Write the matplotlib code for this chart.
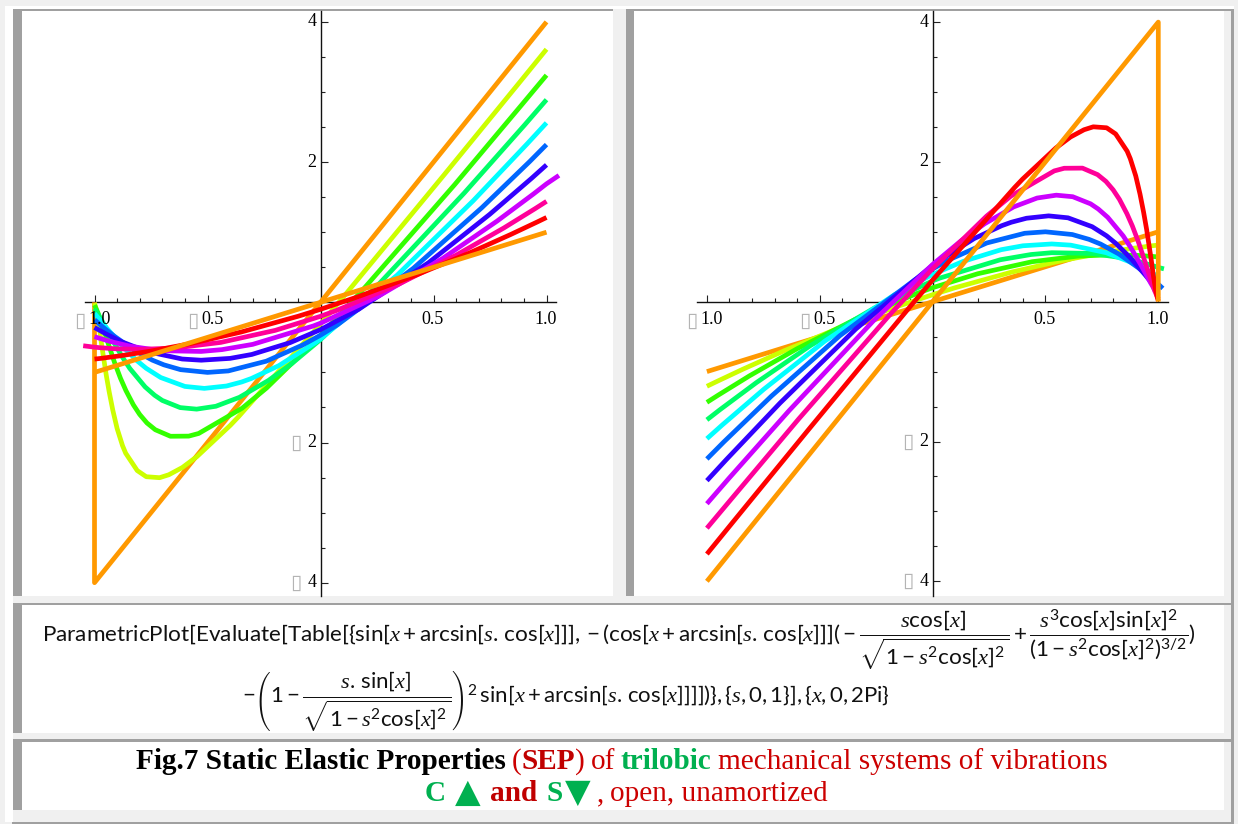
import matplotlib
matplotlib.use("Agg")
import matplotlib.pyplot as plt
from matplotlib.patches import Rectangle

plt.rcParams.update({
    "mathtext.fontset": "custom",
    "mathtext.rm": "Lato",
    "mathtext.it": "Liberation Serif:italic",
    "mathtext.bf": "Lato:bold",
})

# ---------------------------------------------------------------- colours
# Hue[0.1 + s] for s = 0, 0.1, ..., 1
HUE_COLORS = ["#ff9900", "#ccff00", "#33ff00", "#00ff66", "#00ffff", "#0066ff",
              "#3300ff", "#cc00ff", "#ff0099", "#ff0000", "#ff9900"]

# ---------------------------------------------------------------- axis ticks
X_TICKS = [-1.0, -0.5, 0.5, 1.0]
X_TICK_LABELS = ["\u25af1.0", "\u25af0.5", "0.5", "1.0"]
X_MINOR = [-0.9, -0.8, -0.7, -0.6, -0.4, -0.3, -0.2, -0.1, 0.1, 0.2, 0.3, 0.4,
           0.6, 0.7, 0.8, 0.9]
Y_TICKS = [-4, -2, 2, 4]
Y_TICK_LABELS = ["\u25af4", "\u25af2", "2", "4"]
Y_MINOR = [-3.5, -3, -2.5, -1.5, -1, -0.5, 0.5, 1, 1.5, 2.5, 3, 3.5]

# ---------------------------------------------------------------- right panel (S), s = 0 ... 1
R0_X = [-1.0, 1.0]
R0_Y = [-1.0, 1.0]
R1_X = [-1.0, -0.959, -0.840, -0.655, -0.423, -0.164, 0.0, 0.1, 0.351, 0.573, 0.755, 0.890, 0.972, 1.0]
R1_Y = [-1.21, -1.146, -0.965, -0.698, -0.388, -0.077, 0.1, 0.2, 0.424, 0.588, 0.698, 0.765, 0.800, 0.81]
R2_X = [-1.0, -0.951, -0.812, -0.6, -0.342, -0.067, 0.0, 0.2, 0.441, 0.643, 0.8, 0.912, 0.978, 1.0]
R2_Y = [-1.44, -1.339, -1.062, -0.672, -0.252, 0.121, 0.2, 0.4, 0.572, 0.652, 0.672, 0.662, 0.647, 0.64]
R3_X = [-1.0, -0.943, -0.781, -0.541, -0.258, 0.0, 0.032, 0.3, 0.436, 0.528, 0.708, 0.841, 0.931, 0.983, 1.0, 1.025]
R3_Y = [-1.69, -1.547, -1.158, -0.627, -0.090, 0.298, 0.338, 0.6, 0.675, 0.701, 0.690, 0.627, 0.558, 0.508, 0.49, 0.47]
R4_X = [-1.0, -0.934, -0.748, -0.478, -0.169, 0.0, 0.135, 0.304, 0.4, 0.528, 0.612, 0.769, 0.878, 0.948, 0.987, 1.0]
R4_Y = [-1.96, -1.769, -1.253, -0.565, 0.099, 0.39, 0.576, 0.744, 0.8, 0.826, 0.809, 0.701, 0.565, 0.453, 0.383, 0.36]
R5_X = [-1.0, -0.925, -0.714, -0.411, -0.076, 0.0, 0.079, 0.24, 0.408, 0.5, 0.619, 0.693, 0.744, 0.826,
        0.911, 0.964, 0.991, 1.0, 1.02]
R5_Y = [-2.25, -2.006, -1.35, -0.486, 0.319, 0.469, 0.609, 0.84, 0.979, 1.0, 0.961, 0.892, 0.825, 0.681,
        0.486, 0.35, 0.274, 0.25, 0.19]
R6_X = [-1.0, -0.914, -0.676, -0.34, 0.0, 0.023, 0.184, 0.306, 0.349, 0.416, 0.514, 0.6, 0.707, 0.771,
        0.813, 0.877, 0.94, 0.976, 0.994, 1.0]
R6_Y = [-2.56, -2.259, -1.45, -0.39, 0.522, 0.575, 0.903, 1.087, 1.137, 1.194, 1.228, 1.2, 1.073, 0.942,
        0.831, 0.625, 0.39, 0.25, 0.181, 0.16]
R7_X = [-1.0, -0.903, -0.636, -0.264, 0.0, 0.127, 0.23, 0.359, 0.463, 0.548, 0.621, 0.7, 0.734, 0.776,
        0.844, 0.876, 0.923, 0.964, 0.986, 0.997, 1.0]
R7_Y = [-2.89, -2.529, -1.559, -0.28, 0.532, 0.874, 1.114, 1.356, 1.483, 1.524, 1.502, 1.4, 1.326, 1.207,
        0.943, 0.785, 0.526, 0.28, 0.159, 0.105, 0.09]
R8_X = [-1.0, -0.891, -0.594, -0.183, 0.0, 0.239, 0.347, 0.539, 0.583, 0.664, 0.731, 0.768, 0.8, 0.828,
        0.861, 0.885, 0.911, 0.932, 0.961, 0.983, 0.994, 1.0]
R8_Y = [-3.24, -2.82, -1.68, -0.163, 0.472, 1.224, 1.511, 1.871, 1.909, 1.911, 1.818, 1.721, 1.6, 1.463,
        1.259, 1.084, 0.862, 0.659, 0.376, 0.163, 0.08, 0.04]
R9_X = [-1.0, -0.879, -0.548, -0.096, 0.0, 0.363, 0.399, 0.546, 0.611, 0.671, 0.712, 0.771, 0.811, 0.862,
        0.876, 0.9, 0.919, 0.935, 0.948, 0.958, 0.968, 0.977, 0.988, 0.996, 1.0]
R9_Y = [-3.61, -3.13, -1.823, -0.056, 0.31, 1.633, 1.755, 2.199, 2.356, 2.46, 2.502, 2.488, 2.40, 2.153,
        2.045, 1.8, 1.539, 1.278, 1.039, 0.828, 0.616, 0.398, 0.17, 0.056, 0.01]
R10_X = [-1.0, 1.0, 1.0]
R10_Y = [-4.0, 4.0, 0.0]

# ---------------------------------------------------------------- left panel (C), same colour order
L0_X = [1.0, -1.0, -1.0]
L0_Y = [4.0, -4.0, 0.0]
L1_X = [-1.0, -0.996, -0.988, -0.977, -0.968, -0.958, -0.948, -0.935, -0.919, -0.9, -0.876, -0.862, -0.811,
        -0.771, -0.712, -0.671, -0.611, -0.546, -0.399, -0.363, 0.0, 0.096, 0.548, 0.879, 1.0]
L1_Y = [-0.01, -0.056, -0.17, -0.398, -0.616, -0.828, -1.039, -1.278, -1.539, -1.8, -2.045, -2.153, -2.40,
        -2.488, -2.502, -2.46, -2.356, -2.199, -1.755, -1.633, -0.31, 0.056, 1.823, 3.13, 3.61]
L2_X = [-1.0, -0.994, -0.983, -0.961, -0.932, -0.911, -0.885, -0.861, -0.828, -0.8, -0.768, -0.731, -0.664,
        -0.583, -0.539, -0.347, -0.239, 0.0, 0.183, 0.594, 0.891, 1.0]
L2_Y = [-0.04, -0.08, -0.163, -0.376, -0.659, -0.862, -1.084, -1.259, -1.463, -1.6, -1.721, -1.818, -1.911,
        -1.909, -1.871, -1.511, -1.224, -0.472, 0.163, 1.68, 2.82, 3.24]
L3_X = [-1.0, -0.997, -0.986, -0.964, -0.923, -0.876, -0.844, -0.776, -0.734, -0.7, -0.621, -0.548, -0.463,
        -0.359, -0.23, -0.127, 0.0, 0.264, 0.636, 0.903, 1.0]
L3_Y = [-0.09, -0.105, -0.159, -0.28, -0.526, -0.785, -0.943, -1.207, -1.326, -1.4, -1.502, -1.524, -1.483,
        -1.356, -1.114, -0.874, -0.532, 0.28, 1.559, 2.529, 2.89]
L4_X = [-1.0, -0.994, -0.976, -0.94, -0.877, -0.813, -0.771, -0.707, -0.6, -0.514, -0.416, -0.349, -0.306,
        -0.184, -0.023, 0.0, 0.34, 0.676, 0.914, 1.0]
L4_Y = [-0.16, -0.181, -0.25, -0.39, -0.625, -0.831, -0.942, -1.073, -1.2, -1.228, -1.194, -1.137, -1.087,
        -0.903, -0.575, -0.522, 0.39, 1.45, 2.259, 2.56]
L5_X = [-1.0, -0.991, -0.964, -0.911, -0.826, -0.744, -0.693, -0.619, -0.5, -0.408, -0.24, -0.079, 0.0,
        0.076, 0.411, 0.714, 0.925, 1.0]
L5_Y = [-0.25, -0.274, -0.35, -0.486, -0.681, -0.825, -0.892, -0.961, -1.0, -0.979, -0.84, -0.609, -0.469,
        -0.319, 0.486, 1.35, 2.006, 2.25]
L6_X = [-1.0, -0.987, -0.948, -0.878, -0.769, -0.612, -0.528, -0.4, -0.304, -0.135, 0.0, 0.169, 0.478, 0.748, 0.934, 1.0]
L6_Y = [-0.36, -0.383, -0.453, -0.565, -0.701, -0.809, -0.826, -0.8, -0.744, -0.576, -0.39, -0.099, 0.565, 1.253, 1.769, 1.96]
L7_X = [-1.0, -0.983, -0.931, -0.841, -0.708, -0.528, -0.436, -0.3, -0.032, 0.0, 0.258, 0.541, 0.781, 0.943, 1.0, 1.055]
L7_Y = [-0.49, -0.508, -0.558, -0.627, -0.69, -0.701, -0.675, -0.6, -0.338, -0.298, 0.09, 0.627, 1.158, 1.547, 1.69, 1.81]
L8_X = [-1.05, -1.0, -0.978, -0.912, -0.8, -0.643, -0.441, -0.2, 0.0, 0.067, 0.342, 0.6, 0.812, 0.951, 1.0]
L8_Y = [-0.62, -0.64, -0.647, -0.662, -0.672, -0.652, -0.572, -0.4, -0.2, -0.121, 0.252, 0.672, 1.062, 1.339, 1.44]
L9_X = [-1.0, -0.972, -0.890, -0.755, -0.573, -0.351, -0.1, 0.0, 0.164, 0.423, 0.655, 0.840, 0.959, 1.0]
L9_Y = [-0.81, -0.8, -0.765, -0.698, -0.588, -0.424, -0.2, -0.1, 0.077, 0.388, 0.698, 0.965, 1.146, 1.21]
L10_X = [-1.0, 1.0]
L10_Y = [-1.0, 1.0]

RIGHT_CURVES = [(R0_X, R0_Y), (R1_X, R1_Y), (R2_X, R2_Y), (R3_X, R3_Y), (R4_X, R4_Y),
                (R5_X, R5_Y), (R6_X, R6_Y), (R7_X, R7_Y), (R8_X, R8_Y), (R9_X, R9_Y),
                (R10_X, R10_Y)]
LEFT_CURVES = [(L0_X, L0_Y), (L1_X, L1_Y), (L2_X, L2_Y), (L3_X, L3_Y), (L4_X, L4_Y),
               (L5_X, L5_Y), (L6_X, L6_Y), (L7_X, L7_Y), (L8_X, L8_Y), (L9_X, L9_Y),
               (L10_X, L10_Y)]

# ---------------------------------------------------------------- texts
FORMULA_1 = (r"$\mathrm{ParametricPlot[Evaluate[Table[\{sin[}x+\mathrm{arcsin[}s.\,\mathrm{cos[}x\mathrm{]]],}"
             r"-\mathrm{(cos[}x+\mathrm{arcsin[}s.\,\mathrm{cos[}x\mathrm{]]](}-"
             r"\dfrac{s\mathrm{cos[}x\mathrm{]}}{\sqrt{1-s^2\mathrm{cos[}x\mathrm{]}^2}}+"
             r"\dfrac{s^3\mathrm{cos[}x\mathrm{]sin[}x\mathrm{]}^2}{(1-s^2\mathrm{cos[}x\mathrm{]}^2)^{3/2}}\mathrm{)}$")
FORMULA_2 = (r"$-\left(1-\dfrac{s.\,\mathrm{sin[}x\mathrm{]}}{\sqrt{1-s^2\mathrm{cos[}x\mathrm{]}^2}}\right)^2"
             r"\,\mathrm{sin[}x+\mathrm{arcsin[}s.\,\mathrm{cos[}x\mathrm{]]]])\},\{}s\mathrm{,0,1\}],\{}"
             r"x\mathrm{,0,2Pi\}}$")

BLACK, RED, DRED, GREEN = "#000000", "#cc0000", "#c00000", "#00b050"
# (text, weight or "glyph", colour, gap before in px)
CAPTION_1 = [("Fig.7 Static Elastic Properties", "bold", BLACK, 0),
             ("(", "normal", RED, 6),
             ("SEP", "bold", DRED, 0),
             (")", "normal", RED, 0),
             ("of", "normal", RED, 6),
             ("trilobic", "bold", GREEN, 6),
             ("mechanical systems of vibrations", "normal", RED, 6)]
CAPTION_2 = [("C", "bold", GREEN, 0),
             ("\u25b2", "glyph", GREEN, 9),
             ("and", "bold", DRED, 9),
             ("S", "bold", GREEN, 9),
             ("\u25bc", "glyph", GREEN, 3),
             (",", "normal", RED, 6),
             ("open, unamortized", "normal", RED, 6)]
GLYPH_SIZE = 24

# ---------------------------------------------------------------- figure and cell frames
W, H = 1238, 824
BG, BORDER = "#f0f0f0", "#a0a0a0"
fig = plt.figure(figsize=(W / 100, H / 100), dpi=100, facecolor=BG)


def fx(px):
    return px / W


def fy(py):
    return 1 - py / H


def rect(x0, y0, x1, y1, color):
    fig.add_artist(Rectangle((fx(x0), fy(y1)), (x1 - x0) / W, (y1 - y0) / H,
                             transform=fig.transFigure, facecolor=color,
                             edgecolor="none", zorder=-5))


rect(5, 6, 1234, 9, "white")
rect(5, 6, 13, 822, "white")
# plot cells
rect(13, 9, 613, 11, BORDER)
rect(13, 9, 22, 596, BORDER)
rect(22, 11, 613, 596, "white")
rect(626, 9, 1234, 11, BORDER)
rect(626, 9, 634, 596, BORDER)
rect(634, 11, 1224, 596, "white")
# formula cell
rect(13, 602.5, 1234, 605, BORDER)
rect(13, 602.5, 22, 733, BORDER)
rect(22, 605, 1224, 733, "white")
# caption cell
rect(13, 739, 1234, 741.5, BORDER)
rect(13, 739, 22, 810, BORDER)
rect(22, 741.5, 1224, 810, "white")
# outer frame lines
rect(1231, 9, 1234, 824, BORDER)
rect(12, 822, 1234, 824, BORDER)

SERIF = ["Liberation Serif", "DejaVu Sans"]
BOX_KW = dict(fontsize=15, color="#b4b4b4", family="DejaVu Sans", zorder=5)
NUM_KW = dict(fontsize=13, family=SERIF, zorder=5)


def panel(px0, px1, xlim, ylim, curves):
    ax = fig.add_axes([fx(px0), fy(596), (px1 - px0) / W, (596 - 11) / H])
    ax.set_facecolor("white")
    ax.set_xlim(*xlim)
    ax.set_ylim(*ylim)
    for (xs, ys), col in zip(curves, HUE_COLORS):
        ax.plot(xs, ys, color=col, lw=3.4, solid_capstyle="butt",
                solid_joinstyle="round", zorder=3)
    for side in ("top", "right"):
        ax.spines[side].set_visible(False)
    ax.spines["left"].set_position(("data", 0))
    ax.spines["bottom"].set_position(("data", 0))
    ax.spines["bottom"].set_bounds(-1.042, 1.042)
    ax.spines["left"].set_bounds(*ylim)
    for side in ("left", "bottom"):
        ax.spines[side].set_linewidth(1.0)
        ax.spines[side].set_color("#111111")
        ax.spines[side].set_zorder(2)
    ax.set_xticks(X_TICKS)
    ax.set_xticks(X_MINOR, minor=True)
    ax.set_yticks(Y_TICKS)
    ax.set_yticks(Y_MINOR, minor=True)
    ax.tick_params(which="both", direction="in", labelbottom=False, labelleft=False,
                   width=0.8, color="#222222")
    ax.tick_params(which="major", length=5)
    ax.tick_params(which="minor", length=3)

    for v, lab in zip(X_TICKS, X_TICK_LABELS):
        if lab.startswith("\u25af"):
            ax.annotate(lab[0], xy=(v, 0), xytext=(-15, -9), textcoords="offset pixels",
                        ha="center", va="top", **BOX_KW)
            ax.annotate(lab[1:], xy=(v, 0), xytext=(5, -9), textcoords="offset pixels",
                        ha="center", va="top", **NUM_KW)
        else:
            ax.annotate(lab, xy=(v, 0), xytext=(-1, -9), textcoords="offset pixels",
                        ha="center", va="top", **NUM_KW)
    for v, lab in zip(Y_TICKS, Y_TICK_LABELS):
        if lab.startswith("\u25af"):
            ax.annotate(lab[0], xy=(0, v), xytext=(-25, 0), textcoords="offset pixels",
                        ha="center", va="center", **BOX_KW)
            ax.annotate(lab[1:], xy=(0, v), xytext=(-4, 0), textcoords="offset pixels",
                        ha="right", va="center", **NUM_KW)
        else:
            ax.annotate(lab, xy=(0, v), xytext=(-4, 0), textcoords="offset pixels",
                        ha="right", va="center", **NUM_KW)
    return ax


panel(22, 613, (-1.3208, 1.2942), (-4.1897, 4.1555), LEFT_CURVES)
panel(634, 1224, (-1.3230, 1.2911), (-4.2103, 4.1588), RIGHT_CURVES)

renderer = fig.canvas.get_renderer()


def fitted_text(s, x_center, y_center, width, size0, **kw):
    t = fig.text(fx(x_center), fy(y_center), s, ha="center", va="center",
                 fontsize=size0, **kw)
    w = t.get_window_extent(renderer).width
    t.set_fontsize(size0 * width / w)
    return t


fitted_text(FORMULA_1, 618.5, 640, 1143, 13, color="#111111")
fitted_text(FORMULA_2, 565.5, 701, 646, 13, color="#111111")


def caption_line(runs, x_center, baseline, size):
    placed = []
    for text, style, col, gap in runs:
        if style == "glyph":
            t = fig.text(0, fy(baseline + 1), text, fontsize=GLYPH_SIZE, color=col,
                         family="DejaVu Sans", ha="left", va="baseline")
        else:
            t = fig.text(0, fy(baseline), text, fontsize=size, color=col,
                         family=SERIF, fontweight=style, ha="left", va="baseline")
        placed.append((t, gap, t.get_window_extent(renderer).width))
    total = sum(g + w for _, g, w in placed)
    x = x_center - total / 2
    for t, g, w in placed:
        x += g
        t.set_x(fx(x))
        x += w


def line_width(runs, size):
    total = 0
    for text, style, col, gap in runs:
        t = fig.text(0, 0, text, fontsize=size, family=SERIF,
                     fontweight="bold" if style == "bold" else "normal")
        total += t.get_window_extent(renderer).width + gap
        t.remove()
    return total


cap_size = 18 * 978 / line_width(CAPTION_1, 18)
caption_line(CAPTION_1, 621.5, 769, cap_size)
caption_line(CAPTION_2, 626.5, 801, cap_size)

fig.savefig("out.png", dpi=100, facecolor=BG)
